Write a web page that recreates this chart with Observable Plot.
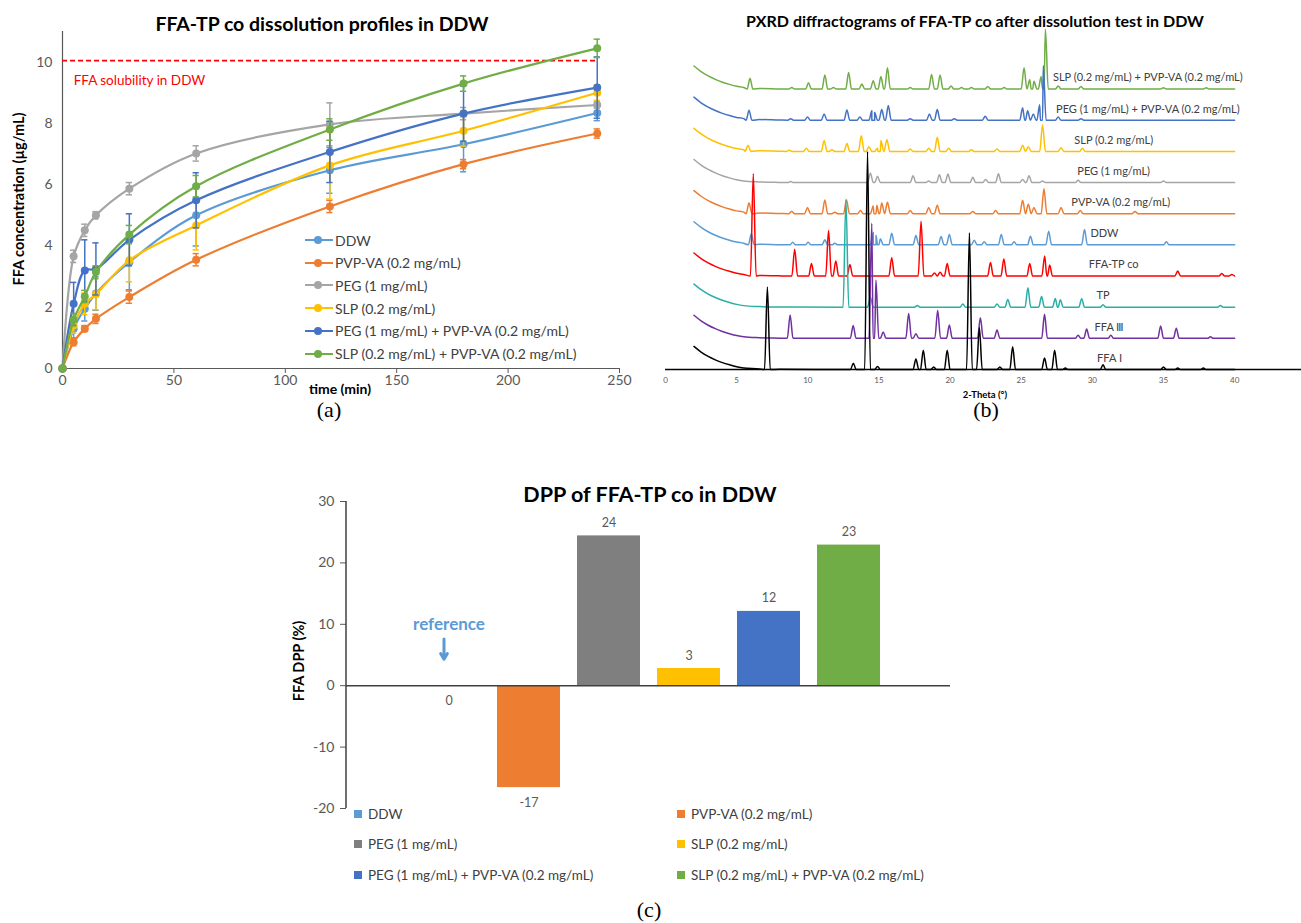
<!DOCTYPE html>
<html><head><meta charset="utf-8">
<script src="https://cdn.jsdelivr.net/npm/d3@7"></script>
<script src="https://cdn.jsdelivr.net/npm/@observablehq/plot@0.6"></script>
<style>
body{margin:0;background:#fff;}
#page{position:relative;width:1301px;height:923px;overflow:hidden;background:#fff;font-family:Lato,"Open Sans",sans-serif;}
.title{position:absolute;transform:translate(-50%,-50%);font-weight:bold;color:#000;white-space:nowrap;}
.panel{position:absolute;transform:translate(-50%,-50%);font-family:"Liberation Serif","Times New Roman",serif;font-size:22px;color:#000;}
.ylab{position:absolute;transform:translate(-50%,-50%) rotate(-90deg);font-weight:bold;white-space:nowrap;color:#000;}
.xlab{position:absolute;transform:translate(-50%,-50%);font-weight:bold;white-space:nowrap;color:#000;}
.leg{position:absolute;white-space:nowrap;color:#404040;display:flex;align-items:center;}
.leg svg{margin-right:2px;}
</style></head><body>
<div id="page"></div>
<script>
// ---------------- Panel (a): dissolution profiles ----------------
const times = [0, 5, 10, 15, 30, 60, 120, 180, 240];
const seriesNames = ["DDW", "PVP-VA (0.2 mg/mL)", "PEG (1 mg/mL)", "SLP (0.2 mg/mL)",
  "PEG (1 mg/mL) + PVP-VA (0.2 mg/mL)", "SLP (0.2 mg/mL) + PVP-VA (0.2 mg/mL)"];
const lineColors = ["#5B9BD5", "#ED7D31", "#A5A5A5", "#FFC000", "#4472C4", "#70AD47"];
const concDDW    = [0, 1.30, 1.95, 2.45, 3.47, 5.00, 6.47, 7.32, 8.34];
const concPVP    = [0, 0.86, 1.30, 1.62, 2.33, 3.55, 5.29, 6.67, 7.67];
const concPEG    = [0, 3.66, 4.51, 5.00, 5.87, 7.02, 7.97, 8.32, 8.60];
const concSLP    = [0, 1.40, 2.11, 2.42, 3.53, 4.67, 6.63, 7.76, 9.00];
const concPEGPVP = [0, 2.11, 3.20, 3.25, 4.20, 5.49, 7.07, 8.32, 9.17];
const concSLPPVP = [0, 1.59, 2.35, 3.15, 4.37, 5.95, 7.80, 9.30, 10.45];
const sdDDW    = [0, 0.30, 0.40, 0.55, 0.90, 1.00, 0.75, 0.90, 0.25];
const sdPVP    = [0, 0.12, 0.10, 0.15, 0.20, 0.20, 0.20, 0.15, 0.15];
const sdPEG    = [0, 0.20, 0.20, 0.12, 0.20, 0.25, 0.70, 0.20, 0.10];
const sdSLP    = [0, 0.25, 0.35, 0.50, 0.70, 0.80, 1.10, 0.50, 0.25];
const sdPEGPVP = [0, 0.70, 1.00, 0.85, 0.85, 0.90, 1.00, 0.90, 1.00];
const sdSLPPVP = [0, 0.20, 0.20, 0.20, 0.30, 0.35, 0.35, 0.25, 0.30];
const solubilityFFA = 10.05;
const solubilityEnd = 240;
const yTicksA = [0, 2, 4, 6, 8, 10];
const xTicksA = [0, 50, 100, 150, 200, 250];

// ---------------- Panel (b): PXRD ----------------
const pxrdNames = ["FFA Ⅰ", "FFA Ⅲ", "TP", "FFA-TP co", "DDW", "PVP-VA (0.2 mg/mL)", "PEG (1 mg/mL)",
  "SLP (0.2 mg/mL)", "PEG (1 mg/mL) + PVP-VA (0.2 mg/mL)", "SLP (0.2 mg/mL) + PVP-VA (0.2 mg/mL)"];
const pxrdColors = ["#000000", "#7030A0", "#2AAFA5", "#FF0000", "#5B9BD5", "#ED7D31", "#A5A5A5", "#FFC000", "#4472C4", "#70AD47"];
const pxrdOffsets = [0, 1, 2, 3, 4, 5, 6, 7, 8, 9];
const pxrdLabelX = [31.2, 31.2, 30.75, 31.5, 30.85, 32.0, 31.5, 31.5, 33.9, 33.9];
const pxrdBackground = [[2, 0.74], [2.5, 0.56], [3, 0.42], [3.5, 0.31], [4, 0.22], [4.5, 0.15], [5, 0.09], [5.5, 0.05], [6.6, 0.02], [8, 0.005], [40, 0]];
const peaksFFA1 = [[7.16,2.65],[13.2,0.2],[14.2,7.0],[14.9,0.1],[17.6,0.34],[18.12,0.62],[18.85,0.08],[19.8,0.62],[21.36,4.38],[22.06,1.34],[23.5,0.08],[24.4,0.73],[26.64,0.37],[27.35,0.62],[28.1,0.05],[30.75,0.15],[35.0,0.08],[36.0,0.05],[37.8,0.05]];
const peaksFFA3 = [[8.76,0.75],[13.19,0.41],[14.5,3.69],[14.79,1.87],[15.3,0.2],[17.09,0.8],[17.6,0.15],[19.13,0.9],[19.95,0.43],[22.13,0.66],[23.3,0.27],[26.64,0.77],[29.0,0.1],[29.6,0.3],[31.3,0.1],[34.8,0.4],[35.9,0.32],[38.3,0.05]];
const peaksTP = [[12.68,3.45],[14.4,0.32],[17.7,0.05],[20.9,0.1],[23.3,0.1],[24.06,0.25],[25.47,0.62],[26.43,0.34],[27.4,0.28],[27.75,0.24],[29.25,0.27],[30.75,0.08],[39.0,0.05]];
const peaksCo = [[6.17,3.28],[9.08,0.86],[10.26,0.4],[11.46,1.46],[11.97,0.48],[12.96,0.37],[15.9,0.59],[17.96,1.76],[18.9,0.1],[19.3,0.12],[19.8,0.4],[22.84,0.43],[23.78,0.55],[25.6,0.4],[26.65,0.64],[27.0,0.35],[36.0,0.16],[39.1,0.08],[39.8,0.05]];
const peaksDDW = [[6.03,0.36],[8.94,0.08],[10.03,0.08],[11.2,0.16],[11.9,0.05],[14.6,0.4],[14.8,0.3],[15.1,0.2],[15.9,0.37],[17.6,0.3],[19.37,0.27],[19.95,0.33],[21.7,0.15],[22.4,0.1],[23.6,0.33],[24.5,0.1],[25.65,0.28],[26.93,0.44],[29.45,0.49],[35.2,0.1]];
const peaksPVP = [[5.87,0.35],[8.87,0.08],[9.98,0.2],[11.2,0.44],[11.9,0.05],[12.72,0.45],[13.7,0.1],[14.6,0.25],[14.85,0.27],[15.2,0.34],[15.6,0.37],[17.2,0.1],[18.5,0.2],[19.1,0.27],[21.6,0.07],[23.2,0.1],[25.1,0.43],[25.5,0.3],[25.9,0.2],[26.6,0.8],[27.8,0.2],[29.15,0.1],[33.0,0.07]];
const peaksPEG = [[8.8,0.03],[14.4,0.3],[14.9,0.2],[17.4,0.22],[18.5,0.05],[19.25,0.25],[19.85,0.27],[21.6,0.17],[22.5,0.1],[23.4,0.28],[25.1,0.1],[25.55,0.22],[26.5,0.05],[29.0,0.07],[35.0,0.05]];
const peaksSLP = [[5.8,0.2],[8.7,0.04],[9.9,0.1],[11.15,0.35],[11.7,0.05],[12.75,0.25],[13.76,0.5],[14.3,0.15],[14.9,0.1],[15.14,0.35],[15.56,0.38],[17.2,0.08],[18.5,0.1],[19.1,0.45],[19.9,0.1],[21.5,0.05],[23.3,0.08],[25.1,0.2],[25.5,0.15],[26.5,0.85],[27.8,0.12],[29.3,0.1]];
const peaksPEGPVP = [[5.87,0.32],[8.8,0.05],[9.98,0.1],[11.15,0.2],[12.75,0.33],[13.66,0.1],[14.5,0.3],[14.7,0.25],[15.2,0.34],[15.66,0.47],[17.2,0.05],[18.55,0.2],[19.1,0.34],[20.3,0.05],[22.47,0.13],[25.1,0.4],[25.45,0.3],[25.85,0.2],[26.3,0.5],[26.55,1.75],[27.6,0.1],[29.2,0.05]];
const peaksSLPPVP = [[5.94,0.35],[8.87,0.05],[10.05,0.2],[11.2,0.45],[11.8,0.05],[12.87,0.53],[13.8,0.16],[14.6,0.27],[15.14,0.4],[15.6,0.68],[17.2,0.05],[18.7,0.47],[19.3,0.45],[20.07,0.1],[20.8,0.05],[21.5,0.05],[22.65,0.08],[23.8,0.05],[25.2,0.68],[25.6,0.3],[25.9,0.25],[26.4,0.4],[26.7,1.92],[27.6,0.1],[29.2,0.08],[35.0,0.04],[38.0,0.04]];
const pxrdPeaks = [peaksFFA1, peaksFFA3, peaksTP, peaksCo, peaksDDW, peaksPVP, peaksPEG, peaksSLP, peaksPEGPVP, peaksSLPPVP];
const xTicksB = [0, 5, 10, 15, 20, 25, 30, 35, 40];

// ---------------- Panel (c): DPP bars ----------------
const dppNames = seriesNames;
const dppValues = [0, -16.6, 24.4, 2.8, 12.1, 22.9];
const dppColors = ["#5B9BD5", "#ED7D31", "#7F7F7F", "#FFC000", "#4472C4", "#70AD47"];
const yTicksC = [-20, -10, 0, 10, 20, 30];
const referenceNote = {name: "DDW", label: "reference", yText: 10, yArrowFrom: 7.6, yArrowTo: 4.3};

// =================================================================
const page = document.getElementById("page");
const FONT = "Lato, 'Open Sans', sans-serif";
function addDiv(cls, text, x, y, style) {
  const d = document.createElement("div");
  d.className = cls; d.textContent = text;
  d.style.left = x + "px"; d.style.top = y + "px";
  Object.assign(d.style, style || {});
  page.appendChild(d); return d;
}
function placeSvg(svg, left, top) {
  svg.style.position = "absolute"; svg.style.left = left + "px"; svg.style.top = top + "px";
  page.appendChild(svg);
}

// ---- Panel (a)
const concAll = [concDDW, concPVP, concPEG, concSLP, concPEGPVP, concSLPPVP];
const sdAll = [sdDDW, sdPVP, sdPEG, sdSLP, sdPEGPVP, sdSLPPVP];
const rowsA = seriesNames.flatMap((name, i) => times.map((t, j) => ({name, t, v: concAll[i][j], e: sdAll[i][j]})));
const errA = rowsA.filter(d => d.e > 0);
const marksA = [
  Plot.ruleY([0], {stroke: "#595959", strokeWidth: 1.2}),
  Plot.ruleX([0], {stroke: "#595959", strokeWidth: 1.2}),
  Plot.ruleY([solubilityFFA], {x1: 0, x2: solubilityEnd, stroke: "#FF0000", strokeWidth: 1.6, strokeDasharray: "5,3"}),
  Plot.text(["FFA solubility in DDW"], {x: 5, y: 9.4, text: d => d, fill: "#FF0000", fontSize: 13.5, textAnchor: "start", fontFamily: FONT})
];
seriesNames.forEach((name, i) => {
  const rows = rowsA.filter(d => d.name === name);
  const er = errA.filter(d => d.name === name);
  marksA.push(
    Plot.ruleX(er, {x: "t", y1: d => d.v - d.e, y2: d => d.v + d.e, stroke: lineColors[i], strokeWidth: 1.5}),
    Plot.ruleY(er, {y: d => d.v + d.e, x1: d => d.t - 1.4, x2: d => d.t + 1.4, stroke: lineColors[i], strokeWidth: 1.5}),
    Plot.ruleY(er, {y: d => d.v - d.e, x1: d => d.t - 1.4, x2: d => d.t + 1.4, stroke: lineColors[i], strokeWidth: 1.5}),
    Plot.line(rows, {x: "t", y: "v", stroke: lineColors[i], strokeWidth: 2.2, curve: "catmull-rom"}),
    Plot.dot(rows, {x: "t", y: "v", fill: lineColors[i], r: 4})
  );
});
const chartA = Plot.plot({
  width: 640, height: 400, marginLeft: 62, marginRight: 21, marginTop: 31, marginBottom: 32,
  style: {fontSize: "14px", color: "#595959", fontFamily: FONT, background: "transparent"},
  x: {domain: [0, 250], ticks: xTicksA, tickSize: 5, tickPadding: 2, label: null},
  y: {domain: [0, 11], ticks: yTicksA, tickSize: 0, tickPadding: 10, label: null},
  marks: marksA
});
placeSvg(chartA, 0, 0);
addDiv("title", "FFA-TP co dissolution profiles in DDW", 322, 23, {fontSize: "19.5px"});
addDiv("ylab", "FFA concentration (µg/mL)", 18, 199, {fontSize: "14.5px"});
addDiv("xlab", "time (min)", 340, 388, {fontSize: "14px"});
addDiv("panel", "(a)", 329, 410);
seriesNames.forEach((name, i) => {
  const d = addDiv("leg", "", 305, 240 + i * 22.7 - 10, {fontSize: "14px", height: "20px"});
  d.innerHTML = `<svg width="28" height="10"><line x1="0" x2="28" y1="5" y2="5" stroke="${lineColors[i]}" stroke-width="2"/><circle cx="13" cy="5" r="4" fill="${lineColors[i]}"/></svg><span>${name}</span>`;
});

// ---- Panel (b)
const pxrdRows = pxrdPeaks.map((peaks, i) => {
  const pts = pxrdBackground.map(([t, h]) => ({t, h}))
    .concat(peaks.flatMap(([t, h]) => [{t: t - 0.2, h: 0}, {t, h}, {t: t + 0.2, h: 0}]));
  pts.sort((a, b) => a.t - b.t);
  return pts.map(p => ({name: pxrdNames[i], t: p.t, y: pxrdOffsets[i] + p.h}));
});
const marksB = [];
for (let i = pxrdNames.length - 1; i >= 0; i--) {
  marksB.push(Plot.line(pxrdRows[i], {x: "t", y: "y", stroke: pxrdColors[i], strokeWidth: 1.5, curve: "monotone-x"}));
}
marksB.push(Plot.ruleY([0], {stroke: "#000", strokeWidth: 1.3}));
marksB.push(Plot.text(pxrdNames.map((n, i) => ({n, x: pxrdLabelX[i], y: pxrdOffsets[i] + 0.36})),
  {x: "x", y: "y", text: "n", fill: "#404040", fontSize: 11, fontFamily: FONT}));
const chartB = Plot.plot({
  width: 661, height: 400, marginLeft: 25, marginRight: 0, marginTop: 20, marginBottom: 31,
  style: {fontSize: "8px", color: "#595959", fontFamily: FONT, background: "transparent"},
  x: {domain: [0, 44.7], ticks: xTicksB, tickSize: 0, tickPadding: 8, label: null},
  y: {domain: [0, 11.2], axis: null},
  marks: marksB
});
placeSvg(chartB, 640, 0);
addDiv("title", "PXRD diffractograms of FFA-TP co after dissolution test in DDW", 975, 20, {fontSize: "16px"});
addDiv("xlab", "2-Theta (°)", 985, 394, {fontSize: "9.5px"});
addDiv("panel", "(b)", 986, 410);

// ---- Panel (c)
const rowsC = dppNames.map((name, i) => ({name, value: dppValues[i], color: dppColors[i]}));
const chartC = Plot.plot({
  width: 700, height: 345, marginLeft: 66, marginRight: 30, marginTop: 21, marginBottom: 17,
  style: {fontSize: "14px", color: "#595959", fontFamily: FONT, background: "transparent"},
  x: {domain: dppNames, paddingInner: 0.218, paddingOuter: 0.856, align: 0.5, axis: null},
  y: {domain: [-20, 30], ticks: yTicksC, tickSize: 6, tickPadding: 6, tickFormat: d => String(d), label: null},
  color: {type: "identity"},
  marks: [
    Plot.barY(rowsC, {x: "name", y: "value", fill: "color"}),
    Plot.ruleY([0], {stroke: "#404040", strokeWidth: 1.5}),
    Plot.text(rowsC.filter(d => d.value > 0), {x: "name", y: "value", text: d => String(Math.round(d.value)), dy: -13, fill: "#595959", fontSize: 12.5, fontFamily: FONT}),
    Plot.text(rowsC.filter(d => d.value <= 0), {x: "name", y: "value", text: d => String(Math.round(d.value)), dy: 15, fill: "#595959", fontSize: 12.5, fontFamily: FONT}),
    Plot.text([referenceNote], {x: "name", y: "yText", text: "label", fill: "#5B9BD5", fontSize: 17, fontWeight: "bold", fontFamily: FONT}),
    Plot.arrow([referenceNote], {x: "name", y1: "yArrowFrom", y2: "yArrowTo", stroke: "#5B9BD5", strokeWidth: 3, headLength: 8, dx: -5})
  ]
});
{
  const sx = chartC.scale("x"), sy = chartC.scale("y");
  d3.select(chartC).append("line")
    .attr("x1", sx.range[0]).attr("x2", sx.range[0])
    .attr("y1", sy.range[0]).attr("y2", sy.range[1])
    .attr("stroke", "#404040").attr("stroke-width", 1.5);
}
placeSvg(chartC, 280, 480);
addDiv("title", "DPP of FFA-TP co in DDW", 650, 494, {fontSize: "21.5px"});
addDiv("ylab", "FFA DPP (%)", 298, 661, {fontSize: "14.5px"});
addDiv("panel", "(c)", 649, 910);
const legPosC = [[354, 814], [677, 814], [354, 844], [677, 844], [354, 875], [677, 875]];
dppNames.forEach((name, i) => {
  const [x, y] = legPosC[i];
  const d = addDiv("leg", "", x, y - 10, {fontSize: "13.5px", height: "20px"});
  d.innerHTML = `<svg width="12" height="10"><rect x="0" y="1" width="8" height="8" fill="${dppColors[i]}"/></svg><span>${name}</span>`;
});
</script>
</body></html>
